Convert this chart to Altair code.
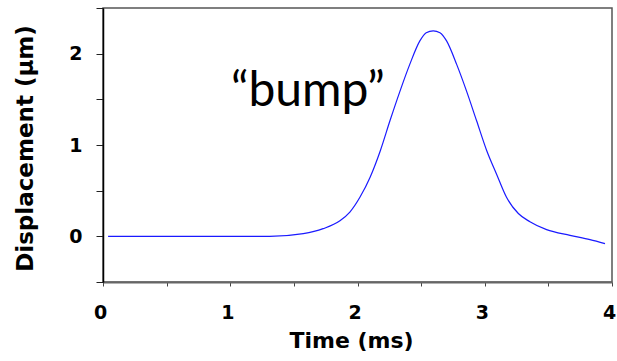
import altair as alt
import pandas as pd

# Curve (time in ms, displacement in µm)
time_ms = [0.04, 0.5, 1.0, 1.31, 1.574, 1.73, 1.862, 1.94, 2.02, 2.10, 2.18, 2.255,
           2.334, 2.41, 2.49, 2.54, 2.595, 2.648, 2.70, 2.78, 2.857, 2.936, 3.015,
           3.093, 3.17, 3.264, 3.355, 3.486, 3.67, 3.827, 3.945]
displacement = [0, 0, 0, 0, 0.03, 0.084, 0.17, 0.265, 0.43, 0.65, 0.94, 1.265,
                1.59, 1.88, 2.14, 2.23, 2.25, 2.23, 2.14, 1.88, 1.59, 1.265, 0.94,
                0.68, 0.43, 0.25, 0.16, 0.073, 0.011, -0.036, -0.08]

x_ticks = [i * 0.25 for i in range(17)]
y_ticks = [-0.5 + i * 0.125 for i in range(25)]

annot_x = [1.61]
annot_y = [1.43]
annot_text = ["\u201cbump\u201d"]

df = pd.DataFrame({"t": time_ms, "d": displacement})
ann = pd.DataFrame({"x": annot_x, "y": annot_y, "text": annot_text})

FONT = "DejaVu Sans"

x_enc = alt.X(
    "t:Q",
    scale=alt.Scale(domain=[0, 4], nice=False, zero=False),
    axis=alt.Axis(
        values=x_ticks, format=".0f",
        labelExpr="datum.value % 1 == 0 ? datum.label : ''",
        labelFont=FONT, labelFontWeight="bold", labelFontSize=19, labelColor="black",
        labelBaseline="alphabetic", labelPadding=32, labelOffset=-3,
        labelOverlap=False, labelFlush=False,
        tickSize=4, tickColor="#444", domainColor="#666", domainWidth=2,
        grid=False,
        title="Time (ms)", titleFont=FONT, titleFontWeight="bold", titleFontSize=22,
        titleColor="black", titleBaseline="alphabetic", titleX=248, titleY=65,
        titleAnchor="middle",
    ),
)

y_enc = alt.Y(
    "d:Q",
    scale=alt.Scale(domain=[-0.5, 2.5], nice=False, zero=False),
    axis=alt.Axis(
        values=y_ticks, format=".0f",
        labelExpr="datum.value % 1 == 0 ? datum.label : ''",
        labelFont=FONT, labelFontWeight="bold", labelFontSize=19, labelColor="black",
        labelPadding=14, labelOverlap=False, labelFlush=False,
        tickSize={"condition": {"test": "datum.value % 0.5 == 0", "value": 7}, "value": 4},
        tickColor="#222", domainColor="black", domainWidth=1.5,
        grid=False,
        title="Displacement (\u00b5m)", titleFont=FONT, titleFontWeight="bold",
        titleFontSize=23, titleColor="black", titleBaseline="alphabetic",
        titleX=-71, titleY=140, titleAngle=270,
    ),
)

line = alt.Chart(df).mark_line(color="#1a1aff", strokeWidth=1.2, interpolate="monotone").encode(
    x=x_enc, y=y_enc
)

text = alt.Chart(ann).mark_text(
    font="Lato", fontSize=48, color="black", align="center", baseline="alphabetic"
).encode(x="x:Q", y="y:Q", text="text:N")

chart = alt.layer(line, text).properties(
    width=509, height=274,
    autosize=alt.AutoSizeParams(type="none"),
    padding={"left": 103, "top": 8, "right": 5, "bottom": 79},
    background="white",
).configure_view(stroke="#555", strokeWidth=1.5)

chart.save("out.html", embed_options={"renderer": "svg", "actions": False})
